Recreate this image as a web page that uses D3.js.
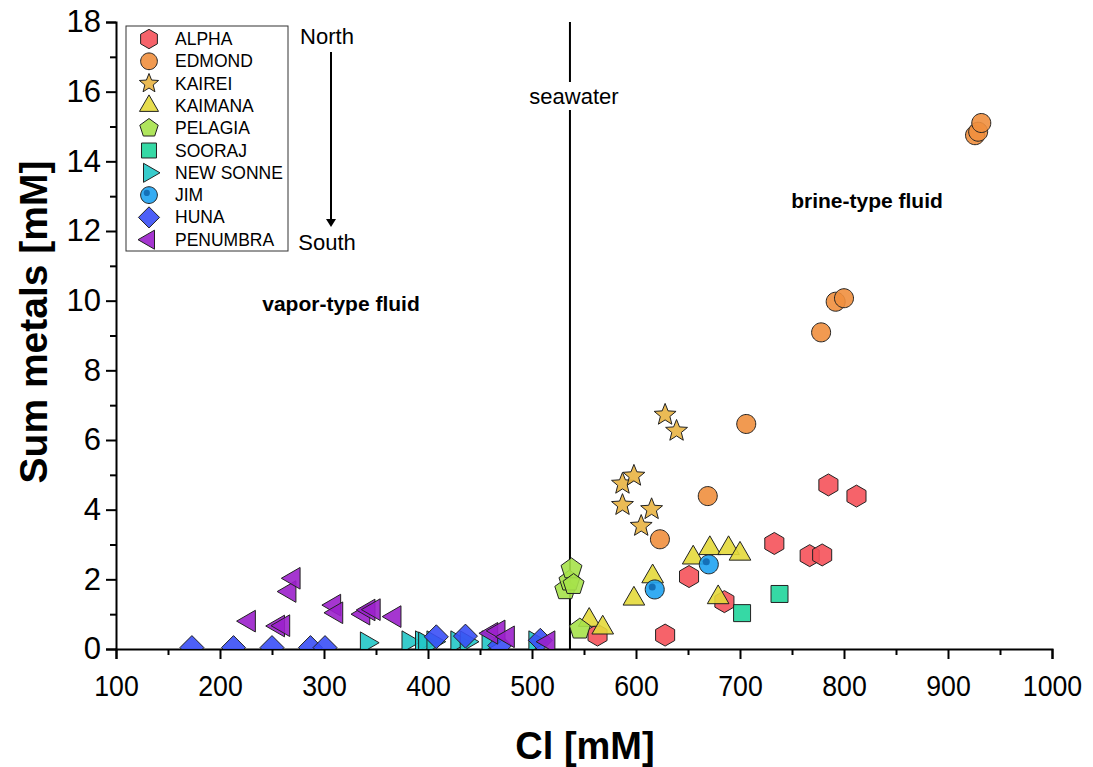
<!DOCTYPE html>
<html>
<head>
<meta charset="utf-8">
<title>Sum metals vs Cl</title>
<script src="https://cdn.jsdelivr.net/npm/d3@7"></script>
<style>
  body { margin: 0; background: #fff; }
  text { font-family: Arial, "Liberation Sans", sans-serif; fill: #000; }
</style>
</head>
<body>
<script>
// Data: Cl [mM] and sum metals [mM] per vent field
const alphaCl = [563, 628, 651, 685, 733, 767, 779, 785, 812];
const alphaMetals = [0.40, 0.40, 2.08, 1.36, 3.03, 2.68, 2.70, 4.71, 4.39];

const edmondCl = [623, 669, 706, 778, 792, 800, 926, 929, 932];
const edmondMetals = [3.15, 4.39, 6.46, 9.09, 9.97, 10.07, 14.75, 14.85, 15.1];

const kaireiCl = [587, 587, 598, 605, 615, 628, 639];
const kaireiMetals = [4.13, 4.74, 4.97, 3.53, 4.01, 6.72, 6.26];

const kaimanaCl = [555, 568, 598, 616, 655, 671, 679, 689, 700];
const kaimanaMetals = [0.83, 0.61, 1.44, 2.08, 2.62, 2.89, 1.48, 2.89, 2.73];

const pelagiaCl = [532, 536, 538, 540, 546];
const pelagiaMetals = [1.70, 1.95, 2.30, 1.85, 0.57];

const soorajCl = [702, 738];
const soorajMetals = [1.03, 1.58];

const newSonneCl = [341, 381, 394, 397, 405, 428, 437, 458, 503];
const newSonneMetals = [0.18, 0.21, 0.21, 0.18, 0.21, 0.21, 0.21, 0.21, 0.21];

const jimCl = [618, 670];
const jimMetals = [1.71, 2.43];

const hunaCl = [173, 213, 250, 287, 301, 408, 436, 469, 508];
const hunaMetals = [0.04, 0.04, 0.04, 0.04, 0.04, 0.35, 0.37, 0.10, 0.25];

const penumbraCl = [228, 256, 261, 267, 271, 310, 312, 338, 343, 348, 368, 461, 468, 477, 516];
const penumbraMetals = [0.80, 0.66, 0.67, 1.65, 2.03, 1.26, 1.04, 1.00, 1.12, 1.13, 0.93, 0.45, 0.52, 0.35, 0.21];

const seawaterCl = 536.5;

const xTicks = [100, 200, 300, 400, 500, 600, 700, 800, 900, 1000];
const yTicks = [0, 2, 4, 6, 8, 10, 12, 14, 16, 18];

const series = [
  { name: "ALPHA", shape: "hexagon", color: "#f5525a", cl: alphaCl, m: alphaMetals },
  { name: "EDMOND", shape: "circle", color: "#f08f3e", cl: edmondCl, m: edmondMetals },
  { name: "KAIREI", shape: "star", color: "#e9b443", cl: kaireiCl, m: kaireiMetals },
  { name: "KAIMANA", shape: "triUp", color: "#e4d93b", cl: kaimanaCl, m: kaimanaMetals },
  { name: "PELAGIA", shape: "pentagon", color: "#a6e24a", cl: pelagiaCl, m: pelagiaMetals },
  { name: "SOORAJ", shape: "square", color: "#20d59b", cl: soorajCl, m: soorajMetals },
  { name: "NEW SONNE", shape: "triRight", color: "#22c6c6", cl: newSonneCl, m: newSonneMetals },
  { name: "JIM", shape: "jim", color: "#1fa3f2", cl: jimCl, m: jimMetals },
  { name: "HUNA", shape: "diamond", color: "#3a4ff6", cl: hunaCl, m: hunaMetals },
  { name: "PENUMBRA", shape: "triLeft", color: "#9b20cb", cl: penumbraCl, m: penumbraMetals }
];

const w = 1093, h = 767;
const pLeft = 116, pRight = 1052, pTop = 22, pBottom = 649;

const x = d3.scaleLinear().domain([100, 1000]).range([pLeft, pRight]);
const y = d3.scaleLinear().domain([0, 18]).range([pBottom, pTop]);

const svg = d3.select("body").append("svg")
  .attr("width", w)
  .attr("height", h);

svg.append("defs").append("clipPath").attr("id", "plotclip")
  .append("rect")
  .attr("x", pLeft).attr("y", 0)
  .attr("width", pRight - pLeft + 20).attr("height", pBottom);

// polygon path helper
function poly(n, r, rot) {
  const pts = [];
  for (let i = 0; i < n; i++) {
    const a = rot + i * 2 * Math.PI / n;
    pts.push([r * Math.cos(a), r * Math.sin(a)]);
  }
  return "M" + pts.map(p => p[0].toFixed(2) + "," + p[1].toFixed(2)).join("L") + "Z";
}
function starPath(ro, ri) {
  const pts = [];
  for (let i = 0; i < 10; i++) {
    const r = i % 2 === 0 ? ro : ri;
    const a = -Math.PI / 2 + i * Math.PI / 5;
    pts.push([r * Math.cos(a), r * Math.sin(a)]);
  }
  return "M" + pts.map(p => p[0].toFixed(2) + "," + p[1].toFixed(2)).join("L") + "Z";
}
function shapePath(shape, s) {
  // s = scale factor (1 for plot, smaller for legend)
  switch (shape) {
    case "hexagon": return poly(6, 11 * s, -Math.PI / 2);
    case "circle": return poly(40, 9.5 * s, 0);
    case "jim": return poly(40, 9.5 * s, 0);
    case "star": return starPath(11.5 * s, 5 * s);
    case "triUp": return poly(3, 12.5 * s, -Math.PI / 2);
    case "triRight": return poly(3, 12.5 * s, 0);
    case "triLeft": return poly(3, 12.5 * s, Math.PI);
    case "pentagon": return poly(5, 11 * s, -Math.PI / 2);
    case "square": return poly(4, 12 * s, Math.PI / 4);
    case "diamond": return poly(4, 12 * s, 0);
  }
}

function drawMarker(g, shape, color, cx, cy, s) {
  g.append("path")
    .attr("d", shapePath(shape, s))
    .attr("transform", "translate(" + cx + "," + cy + ")")
    .attr("fill", color)
    .attr("fill-opacity", 0.9)
    .attr("stroke", "#222")
    .attr("stroke-width", 1);
  if (shape === "jim") {
    g.append("circle")
      .attr("cx", cx - 2.5 * s).attr("cy", cy - 2.5 * s)
      .attr("r", 3.5 * s)
      .attr("fill", "#1470b8");
  }
}

// axes
const xAxis = d3.axisBottom(x).tickValues(xTicks).tickSize(10).tickPadding(16).tickFormat(d3.format("d"));
const gx = svg.append("g").attr("transform", "translate(0," + pBottom + ")").call(xAxis);
gx.selectAll("text").style("font-size", "29px").attr("transform", "scale(0.92,1)");
const xMinor = d3.axisBottom(x).tickValues(d3.range(150, 1000, 100)).tickSize(6).tickFormat("");
svg.append("g").attr("transform", "translate(0," + pBottom + ")").call(xMinor).select(".domain").remove();

const yAxis = d3.axisLeft(y).tickValues(yTicks).tickSize(10).tickPadding(5);
const gy = svg.append("g").attr("transform", "translate(" + pLeft + ",0)").call(yAxis);
gy.selectAll("text").style("font-size", "31px");
const yMinor = d3.axisLeft(y).tickValues(d3.range(1, 18, 2)).tickSize(6).tickFormat("");
svg.append("g").attr("transform", "translate(" + pLeft + ",0)").call(yMinor).select(".domain").remove();

svg.selectAll(".domain").attr("stroke", "#000").attr("stroke-width", 2);
svg.selectAll(".tick line").attr("stroke", "#000").attr("stroke-width", 2);

// axis titles
svg.append("text")
  .attr("x", 585).attr("y", 759)
  .attr("text-anchor", "middle")
  .style("font-size", "38px").style("font-weight", "bold")
  .text("Cl [mM]");
svg.append("text")
  .attr("transform", "translate(47,322) rotate(-90)")
  .attr("text-anchor", "middle")
  .style("font-size", "39px").style("font-weight", "bold")
  .text("Sum metals [mM]");

// seawater line
svg.append("line")
  .attr("x1", x(seawaterCl)).attr("x2", x(seawaterCl))
  .attr("y1", pTop).attr("y2", pBottom)
  .attr("stroke", "#000").attr("stroke-width", 2);
svg.append("rect")
  .attr("x", x(seawaterCl) - 50).attr("y", 82).attr("width", 104).attr("height", 28)
  .attr("fill", "#fff");
svg.append("text")
  .attr("x", x(seawaterCl) + 4).attr("y", 104)
  .attr("text-anchor", "middle")
  .style("font-size", "22px")
  .text("seawater");

svg.append("text")
  .attr("x", 867).attr("y", 208)
  .attr("text-anchor", "middle")
  .style("font-size", "21px").style("font-weight", "bold")
  .text("brine-type fluid");
svg.append("text")
  .attr("x", 341).attr("y", 311)
  .attr("text-anchor", "middle")
  .style("font-size", "21px").style("font-weight", "bold")
  .text("vapor-type fluid");

// points
const plot = svg.append("g").attr("clip-path", "url(#plotclip)");
for (let s of series) {
  for (let i = 0; i < s.cl.length; i++) {
    drawMarker(plot, s.shape, s.color, x(s.cl[i]), y(s.m[i]), 1);
  }
}

// legend
const lg = svg.append("g");
lg.append("rect")
  .attr("x", 126).attr("y", 26).attr("width", 162).attr("height", 225)
  .attr("fill", "#fff").attr("stroke", "#333").attr("stroke-width", 1);
series.forEach(function (s, i) {
  const ly = 39 + i * 22.3;
  drawMarker(lg, s.shape, s.color, 149, ly, 0.88);
  lg.append("text")
    .attr("x", 175).attr("y", ly + 6)
    .style("font-size", "17.5px")
    .text(s.name);
});

// North/South arrow
svg.append("text").attr("x", 327).attr("y", 44).attr("text-anchor", "middle")
  .style("font-size", "22px").text("North");
svg.append("text").attr("x", 327).attr("y", 250).attr("text-anchor", "middle")
  .style("font-size", "22px").text("South");
svg.append("line")
  .attr("x1", 331).attr("x2", 331).attr("y1", 52).attr("y2", 219)
  .attr("stroke", "#000").attr("stroke-width", 2);
svg.append("path")
  .attr("d", "M326,219L336,219L331,227Z")
  .attr("fill", "#000");
</script>
</body>
</html>
